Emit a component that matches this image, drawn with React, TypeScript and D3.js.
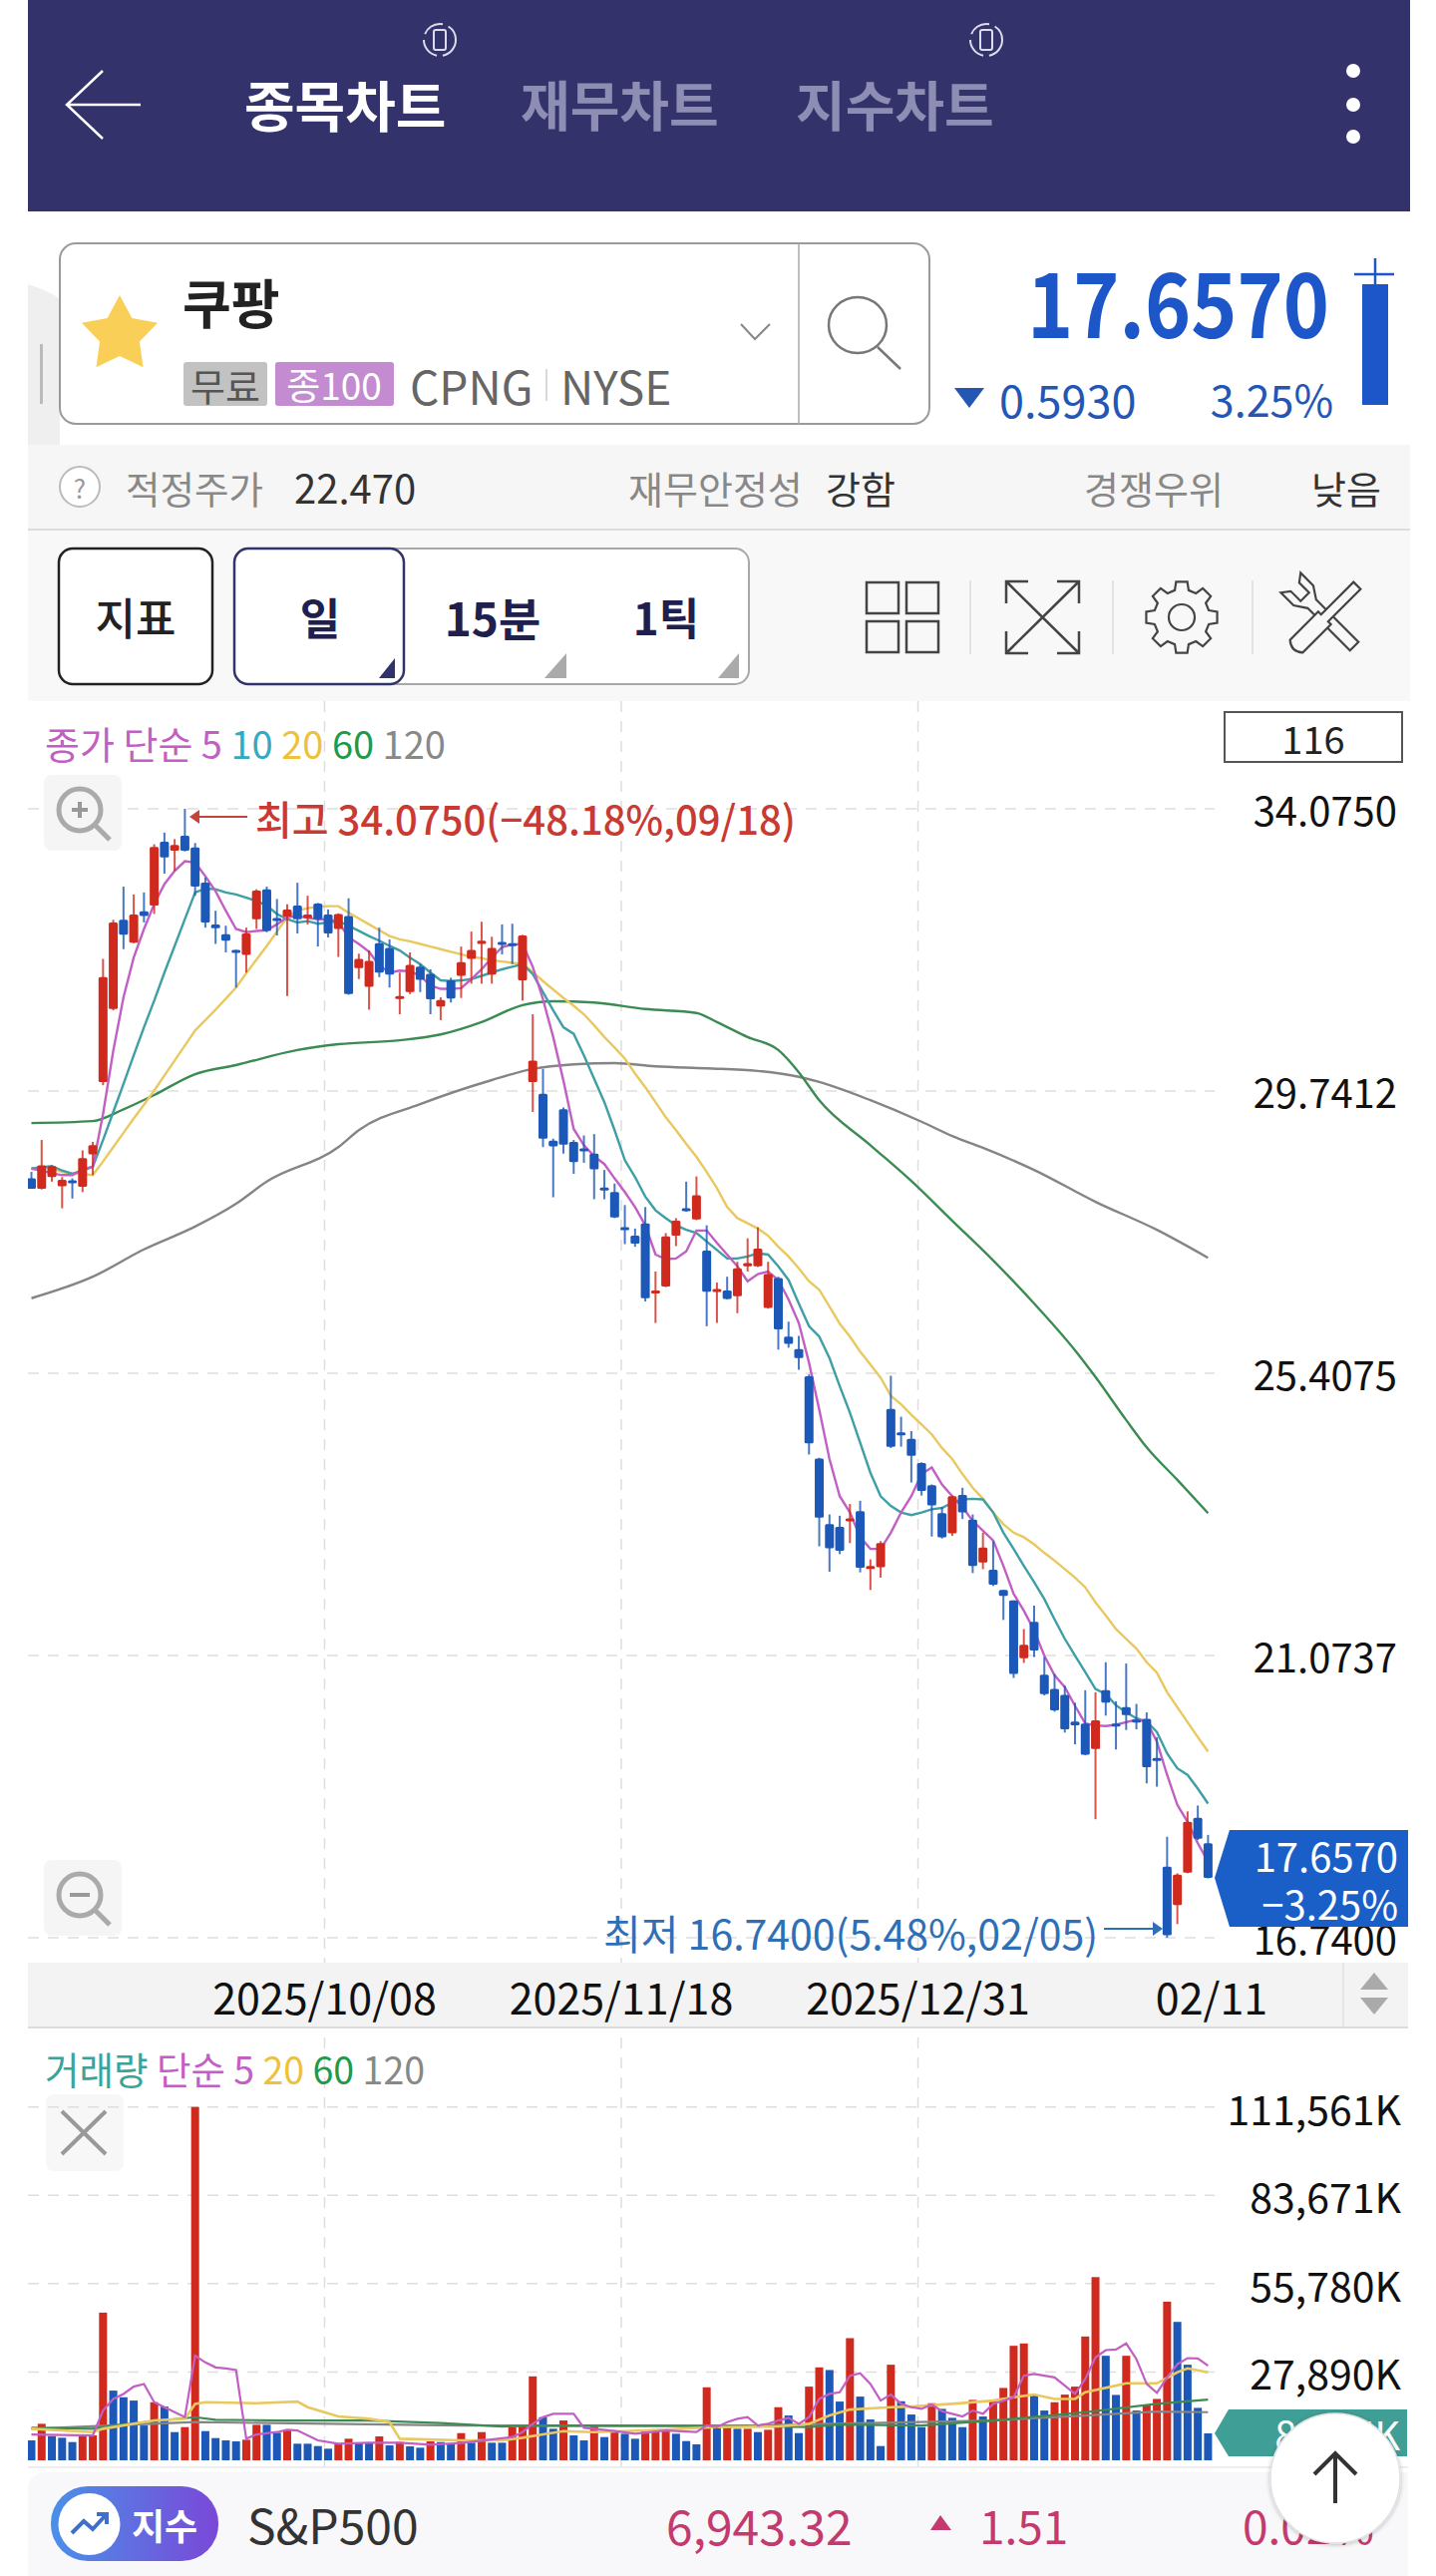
import React from "react";
import * as d3 from "d3";

// ---------- price data (116 daily candles) ----------
const opens = [28.40,28.24,28.42,28.28,28.37,28.27,28.77,29.88,31.00,32.37,32.02,32.50,32.59,33.57,33.43,33.66,33.48,32.94,32.30,32.15,31.91,31.83,32.38,32.84,32.40,32.42,32.59,32.40,32.62,32.45,32.23,32.43,31.63,31.34,32.01,31.94,31.18,31.26,31.65,31.54,31.04,31.44,31.51,31.77,32.00,31.53,32.03,32.01,31.44,29.88,29.70,28.98,29.46,28.96,28.86,28.78,28.26,28.19,27.65,27.52,27.71,26.66,26.74,27.52,27.94,27.77,27.29,26.66,26.68,26.59,27.05,27.05,26.41,26.87,25.97,25.78,25.36,24.10,23.09,23.05,23.15,23.29,22.44,22.43,24.86,24.50,24.40,24.03,23.69,23.26,22.95,23.54,23.16,22.50,22.39,22.08,21.92,21.03,21.59,20.78,20.56,20.47,20.06,20.03,19.64,20.54,20.03,20.28,20.09,20.10,19.50,17.83,17.24,17.74,18.58,18.19];
const highs = [28.50,28.99,28.60,28.42,28.40,28.83,28.96,31.77,32.37,32.88,32.76,32.79,33.53,33.71,33.61,34.075,33.55,33.02,32.51,32.28,31.91,32.25,32.84,32.88,32.69,32.61,32.94,32.74,32.63,32.53,32.47,32.70,31.85,31.90,32.25,32.07,31.56,31.87,31.69,31.61,31.18,31.48,31.96,32.19,32.34,32.11,32.30,32.31,32.14,30.92,30.08,29.01,29.49,28.99,29.06,29.08,28.53,28.32,27.99,27.63,27.96,26.97,27.56,27.79,28.35,28.43,27.68,26.80,26.89,27.12,27.48,27.65,27.12,26.89,26.20,25.98,25.39,24.11,23.24,23.22,23.40,23.45,22.55,22.83,25.37,24.74,24.52,24.04,23.70,23.35,23.53,23.65,23.24,22.96,22.83,22.08,21.92,21.48,21.84,21.05,20.79,20.61,20.35,20.54,20.51,20.97,20.37,20.95,20.33,20.20,19.82,18.29,17.73,18.68,18.77,18.32];
const lows = [28.24,28.23,28.35,27.94,28.09,28.19,28.45,29.83,30.98,31.92,32.01,32.33,32.46,33.08,33.12,33.42,32.74,32.25,32.00,31.87,31.33,31.56,32.23,32.18,32.13,31.20,32.16,32.30,31.96,32.10,31.80,31.22,31.46,30.99,31.49,31.33,30.92,31.23,31.26,30.92,30.83,31.10,31.17,31.39,31.39,31.39,31.84,31.69,31.13,29.42,28.88,28.11,28.78,28.47,28.64,28.08,28.08,27.79,27.39,27.35,26.51,26.18,26.73,27.36,27.89,27.76,26.13,26.18,26.54,26.33,26.97,27.04,26.40,25.77,25.80,25.46,24.16,22.75,22.36,22.63,22.80,22.35,22.08,22.27,24.26,24.28,23.73,23.53,22.90,22.87,22.91,23.17,22.34,22.40,22.14,21.62,20.73,20.96,21.05,20.46,20.21,19.89,19.71,19.54,18.56,20.15,19.63,19.93,19.94,19.11,19.06,16.74,16.95,17.73,18.24,17.65];
const closes = [28.24,28.60,28.59,28.38,28.35,28.71,28.91,31.49,32.33,32.14,32.45,32.43,33.49,33.33,33.52,33.43,32.88,32.33,32.24,32.05,31.89,32.16,32.82,32.20,32.38,32.53,32.38,32.45,32.38,32.16,32.46,31.23,31.77,31.74,31.56,31.53,31.20,31.68,31.45,31.15,31.14,31.16,31.72,31.91,32.05,31.94,31.99,31.99,32.13,30.21,29.01,28.89,28.92,28.65,28.84,28.54,28.24,27.80,27.63,27.40,26.56,26.68,27.51,27.75,27.90,28.14,26.66,26.70,26.55,27.02,27.10,27.32,26.93,26.08,25.86,25.64,24.33,23.19,22.72,22.68,23.18,22.42,22.45,22.80,24.28,24.48,24.14,23.60,23.38,22.89,23.52,23.27,22.45,22.73,22.16,21.99,20.79,21.24,21.15,20.48,20.23,19.94,20.00,19.55,20.08,20.35,20.01,20.16,20.07,19.36,19.48,16.78,17.71,18.52,18.26,17.657];

const ma5 = [28.55,28.52,28.48,28.45,28.45,28.54,28.58,29.39,30.36,31.18,31.79,32.23,32.61,32.92,33.12,33.27,33.25,33.04,32.81,32.51,32.23,32.18,32.20,32.21,32.30,32.41,32.43,32.40,32.38,32.38,32.34,32.10,32.00,31.88,31.67,31.56,31.59,31.58,31.51,31.36,31.31,31.31,31.32,31.46,31.61,31.79,31.95,31.99,32.00,31.65,31.15,30.57,29.90,29.16,28.91,28.74,28.62,28.40,28.19,27.96,27.68,27.23,27.16,27.17,27.28,27.60,27.60,27.41,27.23,27.05,26.82,26.93,26.97,26.84,26.54,26.18,25.57,24.85,24.09,23.52,23.27,22.89,22.71,22.71,22.96,23.27,23.52,23.86,23.96,23.70,23.52,23.35,23.14,22.99,22.84,22.45,22.02,21.76,21.46,21.07,20.77,20.59,20.30,20.03,20.00,19.99,20.01,20.05,20.09,20.06,19.75,19.24,18.78,18.52,18.19,17.91];
const ma10 = [28.55,28.57,28.59,28.52,28.47,28.52,28.58,28.99,29.42,29.85,30.29,30.72,31.13,31.56,31.97,32.38,32.79,32.85,32.84,32.79,32.76,32.71,32.66,32.59,32.46,32.38,32.33,32.35,32.31,32.33,32.35,32.28,32.20,32.12,32.05,31.97,31.90,31.79,31.69,31.56,31.44,31.43,31.44,31.46,31.51,31.56,31.61,31.65,31.69,31.54,31.26,30.98,30.72,30.62,30.29,29.93,29.57,29.14,28.68,28.42,28.12,27.91,27.79,27.68,27.61,27.56,27.43,27.30,27.17,27.17,27.20,27.25,27.23,27.05,26.84,26.48,26.13,25.97,25.64,25.21,24.80,24.34,23.88,23.52,23.37,23.27,23.23,23.27,23.32,23.34,23.42,23.47,23.48,23.47,23.27,22.96,22.71,22.45,22.20,21.94,21.63,21.33,21.07,20.82,20.56,20.48,20.31,20.20,20.11,20.06,19.90,19.57,19.34,19.24,19.03,18.80];
const ma20 = [28.55,28.57,28.55,28.50,28.47,28.47,28.45,28.66,28.88,29.10,29.32,29.53,29.75,29.98,30.21,30.44,30.67,30.83,30.99,31.16,31.33,31.55,31.76,31.97,32.19,32.41,32.51,32.55,32.57,32.58,32.58,32.48,32.39,32.30,32.21,32.12,32.07,32.04,32.00,31.96,31.92,31.88,31.84,31.80,31.78,31.75,31.73,31.71,31.69,31.57,31.43,31.30,31.17,31.05,30.92,30.75,30.57,30.41,30.24,30.01,29.80,29.57,29.34,29.14,28.93,28.73,28.50,28.25,27.96,27.79,27.71,27.63,27.52,27.35,27.20,27.02,26.82,26.69,26.43,26.17,25.97,25.74,25.54,25.34,25.06,24.93,24.77,24.62,24.47,24.26,24.09,23.86,23.65,23.48,23.27,23.09,22.96,22.89,22.78,22.65,22.53,22.40,22.27,22.12,21.89,21.69,21.48,21.33,21.18,20.97,20.81,20.51,20.28,20.05,19.82,19.60];
const ma60Index = [0,6,9,12,16,20,26,30,36,40,44,48,51,55,60,65,67,70,73,75,77,82,86,90,94,98,102,104,107,109,112,115];
const ma60 = [29.25,29.28,29.46,29.68,30.00,30.14,30.37,30.46,30.52,30.61,30.80,31.06,31.12,31.10,31.00,30.94,30.80,30.57,30.37,30.03,29.60,28.91,28.36,27.75,27.14,26.48,25.76,25.35,24.69,24.27,23.77,23.26];
const ma120Index = [0,6,11,16,20,23,30,32,38,45,49,53,57,61,66,71,75,77,82,87,90,93,98,104,110,115];
const ma120 = [26.56,26.89,27.31,27.66,28.01,28.35,28.88,29.14,29.54,29.91,30.08,30.15,30.17,30.12,30.09,30.05,29.96,29.88,29.60,29.27,29.05,28.87,28.53,28.04,27.61,27.18];

const priceTicks = [34.075, 29.7412, 25.4075, 21.0737, 16.74];
const priceTickLabels = ["34.0750", "29.7412", "25.4075", "21.0737", "16.7400"];
const dateTickIndex = [28.65, 57.65, 86.65];
const dateTickLabels = ["2025/10/08", "2025/11/18", "2025/12/31"];
const lastDateLabel = "02/11";

// ---------- volume data (thousands of shares) ----------
const volumes = [6288,11528,7650,7126,5764,7860,7860,46636,22008,19912,18864,11004,18340,16978,8908,10480,111561,9222,7022,6288,5974,6498,11214,11214,8698,9432,5240,5240,4506,3668,5240,6812,5450,5450,7546,4716,5764,4402,3982,5974,5764,5240,8594,5554,8908,5554,5554,10480,11004,26514,13624,9956,12576,7860,6288,10690,7336,8908,8384,6812,9432,9642,9642,8384,6078,5030,23056,11004,10690,9956,9956,8908,9642,16768,14148,8594,23266,29344,28506,18550,38566,20122,12890,4506,30182,18654,14462,10480,18026,16244,13414,10480,19074,13834,19074,22846,36156,36890,20750,15720,18340,20750,23266,39090,57850,33012,20646,33012,15720,17502,19388,50094,43702,30182,16558,8505];
const volumeUp = "brbbbrrrbbbbrbbrrbbbbrrbbrbbbbrrbbrbrbbrbbrbrbbrrrbbrbbrbrbbrrrbbbrbrbrbrrbbrrbbrbbbrbbbrbbbrbrrrrbbrrrrrbbrbrrrbbbb";
const volMa5Index = [0,6,7,8,9,10,11,12,13,14,15,16,17,18,19,20,21,22,24,25,26,28,30,33,36,39,42,47,48,49,50,51,53,54,57,59,62,65,66,67,68,69,70,71,72,73,74,75,76,77,78,79,80,81,82,83,84,85,86,87,88,89,90,91,92,93,94,95,96,97,98,99,100,101,102,103,104,105,106,107,108,109,110,111,112,113,114,115];
const volMa5 = [8174,7860,15720,19388,20960,23266,24104,18340,16768,15196,13624,33012,30916,29344,29030,28506,6812,8174,8908,9642,9432,6288,5240,5554,5554,4926,5450,7336,8908,11528,13624,14672,14672,10270,9222,8384,9432,8908,11004,10480,12052,13100,13624,11004,11528,12576,13414,11528,13624,19388,20960,21484,26724,27458,24104,18864,20750,17816,16768,16244,17606,15510,14672,13834,15720,14672,17816,18864,19912,26724,27248,26724,26200,23580,20960,25676,32488,34794,35003,36890,31964,24104,21274,26200,30392,32278,32174,29868];
const volMa20Index = [0,6,7,12,15,16,17,22,26,27,30,33,35,36,42,46,48,50,52,55,60,67,73,76,78,80,84,86,90,94,96,98,100,102,103,106,107,110,112,113,115];
const volMa20 = [9956,8908,9956,12576,13100,17816,18340,18026,18550,16768,13834,13100,12052,6812,6288,6288,7126,8174,9222,8908,9432,10480,10690,11528,14148,16034,16768,16978,17816,18864,19912,20750,19388,19388,21484,23580,24314,24314,27772,29030,27772];
const volMa60Index = [0,6,8,12,16,18,25,33,40,46,50,67,76,79,87,94,103,110,115];
const volMa60 = [10270,9956,11004,12366,13624,12786,12576,12576,11738,10690,11004,10899,10480,11318,11004,12576,15196,17816,19178];
const volMa120Index = [0,16,42,67,94,103,110,115];
const volMa120 = [9956,12052,11004,10794,12576,14148,15406,15196];
const volumeTicks = [111561, 83671, 55780, 27890];
const volumeTickLabels = ["111,561K", "83,671K", "55,780K", "27,890K"];

const FONT = "'Noto Sans CJK KR','Noto Sans',sans-serif";
const RED = "#d02a1e";
const BLUE = "#1c58b8";
const C5 = "#c25fc4";
const C10 = "#3f9fa6";
const C20 = "#e9c95f";
const C60 = "#3b8b52";
const C120 = "#858585";

const x = d3.scaleLinear().domain([0, 115]).range([31.5, 1211.4]);
const y = d3.scaleLinear().domain([16.74, 34.075]).range([1943, 811]);
const yv = d3.scaleLinear().domain([0, 111561]).range([2467, 2112.7]);

const lineOf = (idx: number[], vals: number[], scale: (v: number) => number, curve: any = d3.curveLinear) =>
  d3.line<number>().x((_, k) => x(idx[k])).y((v) => scale(v)).curve(curve)(vals) || "";
const seq = d3.range(116);

function T(p: any) {
  const { children, size = 36, fill = "#222", w = 400, anchor = "start", ...r } = p;
  return (
    <text fontFamily={FONT} fontSize={size} fill={fill} fontWeight={w} textAnchor={anchor} dominantBaseline="central" {...r}>
      {children}
    </text>
  );
}

function gearPath(cx: number, cy: number, r1: number, r2: number, teeth: number) {
  const pts: string[] = [];
  for (let i = 0; i < teeth; i++) {
    const a = (i / teeth) * Math.PI * 2;
    const s = (Math.PI * 2) / teeth;
    [[-0.32, r1], [-0.2, r2], [0.2, r2], [0.32, r1]].forEach(([f, r]) => {
      pts.push(`${cx + r * Math.cos(a + f * s)},${cy + r * Math.sin(a + f * s)}`);
    });
  }
  return "M" + pts.join("L") + "Z";
}

export default function App() {
  const star = d3.range(10).map((i) => {
    const r = i % 2 === 0 ? 40 : 21;
    const a = -Math.PI / 2 + (i * Math.PI) / 5;
    return `${120 + r * Math.cos(a)},${336 + r * Math.sin(a)}`;
  }).join(" ");
  return (
    <svg width={1440} height={2583} viewBox="0 0 1440 2583" style={{ position: "absolute", left: 0, top: 0, background: "#fff" }}>
      <defs>
        <linearGradient id="pill" x1="0" x2="1" y1="0" y2="0">
          <stop offset="0" stopColor="#4a90e8" />
          <stop offset="1" stopColor="#7a48d8" />
        </linearGradient>
        <clipPath id="plot"><rect x={28} y={703} width={1190} height={1262} /></clipPath>
        <clipPath id="vplot"><rect x={28} y={2035} width={1190} height={440} /></clipPath>
        <filter id="sh" x="-20%" y="-20%" width="140%" height="140%">
          <feDropShadow dx={0} dy={1} stdDeviation={2} floodColor="#000" floodOpacity={0.25} />
        </filter>
      </defs>

      {/* header */}
      <rect x={28} y={0} width={1386} height={212} fill="#33326b" />
      <g stroke="#fff" strokeWidth={2.5} fill="none">
        <path d="M141,105 H68 M103,71 L67,105 L103,139" />
      </g>
      <T x={245} y={103} size={55} w={700} fill="#fff">종목차트</T>
      <T x={522} y={103} size={54} w={700} fill="#8e8eb4">재무차트</T>
      <T x={798} y={103} size={54} w={700} fill="#8e8eb4">지수차트</T>
      {[441, 989].map((cx) => (
        <g key={cx} stroke="#dcdcec" fill="none" strokeWidth={2}>
          <circle cx={cx} cy={40} r={16} strokeDasharray="22 6" />
          <rect x={cx - 6} y={30} width={12} height={20} rx={2} />
        </g>
      ))}
      {[71, 105, 137].map((cy) => <circle key={cy} cx={1357} cy={cy} r={7} fill="#fff" />)}

      {/* stock box */}
      <path d="M28,285 Q50,292 60,300 V450 Q50,462 28,472 Z" fill="#efefef" />
      <rect x={40} y={345} width={3} height={60} fill="#bbb" />
      <rect x={60} y={244} width={872} height={181} rx={16} fill="#fff" stroke="#9a9a9a" strokeWidth={2} />
      <line x1={801} x2={801} y1={244} y2={425} stroke="#aaa" strokeWidth={1.5} />
      <polygon points={star} fill="#f9cf57" />
      <T x={183} y={302} size={53} w={700} fill="#222">쿠팡</T>
      <rect x={184} y={363} width={84} height={44} rx={3} fill="#c2c2c2" />
      <T x={226} y={385} size={38} fill="#555" anchor="middle">무료</T>
      <rect x={276} y={363} width={119} height={44} rx={3} fill="#c38bd0" />
      <T x={335} y={385} size={37} fill="#fff" anchor="middle">종100</T>
      <T x={411} y={386} size={46} fill="#666">CPNG</T>
      <line x1={548} x2={548} y1={370} y2={402} stroke="#ccc" strokeWidth={1.5} />
      <T x={562} y={386} size={46} fill="#666">NYSE</T>
      <path d="M743,325 L757,340 L772,325" stroke="#888" strokeWidth={2} fill="none" />
      <ellipse cx={860} cy={326} rx={29} ry={28} fill="none" stroke="#777" strokeWidth={2.5} />
      <line x1={880} y1={348} x2={903} y2={370} stroke="#777" strokeWidth={2.5} />

      {/* price header */}
      <T x={1030} y={300} size={90} w={600} fill="#1c56c8" textLength={303} lengthAdjust="spacingAndGlyphs">17.6570</T>
      <line x1={1379} x2={1379} y1={259} y2={287} stroke="#1c56c8" strokeWidth={2.5} />
      <line x1={1358} x2={1398} y1={275} y2={275} stroke="#1c56c8" strokeWidth={2.5} />
      <rect x={1366} y={285} width={26} height={121} fill="#1c56c8" />
      <polygon points="957,389 987,389 972,409" fill="#2456b4" />
      <T x={1002} y={399} size={45} fill="#2456b4">0.5930</T>
      <T x={1337} y={399} size={43} fill="#2456b4" anchor="end">3.25%</T>

      {/* info strip */}
      <rect x={28} y={446} width={1386} height={85} fill="#f6f6f6" />
      <line x1={28} x2={1414} y1={531} y2={531} stroke="#dcdcdc" strokeWidth={2} />
      <circle cx={80} cy={488} r={20} fill="#fff" stroke="#bbb" strokeWidth={2} />
      <T x={80} y={488} size={26} fill="#999" anchor="middle">?</T>
      <T x={126} y={488} size={37.5} fill="#888">적정주가</T>
      <T x={295} y={488} size={40} fill="#333">22.470</T>
      <T x={630} y={488} size={38} fill="#888">재무안정성</T>
      <T x={828} y={488} size={38} fill="#333">강함</T>
      <T x={1087} y={488} size={38} fill="#888">경쟁우위</T>
      <T x={1315} y={488} size={38} fill="#333">낮음</T>

      {/* toolbar */}
      <rect x={28} y={532} width={1386} height={171} fill="#f8f8f8" />
      <rect x={59} y={550} width={154} height={136} rx={14} fill="#fff" stroke="#222" strokeWidth={2.5} />
      <T x={136} y={618} size={44} w={500} anchor="middle">지표</T>
      <rect x={235} y={550} width={516} height={136} rx={14} fill="#fff" stroke="#a8a8a8" strokeWidth={2} />
      <rect x={235} y={550} width={170} height={136} rx={14} fill="#fff" stroke="#33336b" strokeWidth={2.5} />
      <T x={321} y={618} size={44} w={700} fill="#20204f" anchor="middle">일</T>
      <T x={494} y={618} size={46} w={700} fill="#20204f" anchor="middle">15분</T>
      <T x={668} y={618} size={44} w={700} fill="#20204f" anchor="middle">1틱</T>
      <polygon points="396,660 396,680 380,680" fill="#33336b" />
      <polygon points="568,655 568,680 546,680" fill="#aaa" />
      <polygon points="741,655 741,680 720,680" fill="#aaa" />
      <g stroke="#444" strokeWidth={2.5} fill="none">
        <rect x={869} y={584} width={32} height={31} />
        <rect x={909} y={584} width={32} height={31} />
        <rect x={869} y={623} width={32} height={31} />
        <rect x={909} y={623} width={32} height={31} />
        <path d="M1009,583 L1082,655 M1082,583 L1009,655 M1009,605 V583 H1031 M1060,583 H1082 V605 M1009,633 V655 H1031 M1060,655 H1082 V633" />
        <path d={gearPath(1185, 619, 28, 36, 8)} strokeWidth={2.2} />
        <circle cx={1185} cy={619} r={13} strokeWidth={2.2} />
        <g strokeWidth={2.2} transform="rotate(-45 1329 619)">
          <path d="M1323,660 V600 L1315,588 V570 L1323,576 V590 H1335 V576 L1343,570 V588 L1335,600 V660 Z" transform="translate(0,0)" />
        </g>
        <g strokeWidth={2.2} fill="#f8f8f8" transform="rotate(45 1329 619)">
          <path d="M1324,574 H1334 V620 H1338 V660 Q1329,668 1320,660 V620 H1324 Z" />
        </g>
      </g>
      {[973, 1116, 1256].map((lx) => <line key={lx} x1={lx} x2={lx} y1={582} y2={656} stroke="#ddd" strokeWidth={1.5} />)}

      {/* vertical grid */}
      {dateTickIndex.map((d) => (
        <line key={d} x1={x(d)} x2={x(d)} y1={703} y2={2473} stroke="#dedede" strokeWidth={1.5} strokeDasharray="11 9" />
      ))}

      {/* price grid */}
      {priceTicks.map((t) => (
        <line key={t} x1={28} x2={1218} y1={y(t)} y2={y(t)} stroke="#dedede" strokeWidth={1.5} strokeDasharray="11 9" />
      ))}

      {/* legend + controls */}
      <text x={45} y={744} fontFamily={FONT} fontSize={38} dominantBaseline="central" fill={C5}>
        종가 단순 5 <tspan fill="#35a9c2">10</tspan> <tspan fill="#eec13c">20</tspan> <tspan fill="#1f9a4a">60</tspan> <tspan fill="#888">120</tspan>
      </text>
      <rect x={1228} y={714} width={178} height={50} fill="#fff" stroke="#555" strokeWidth={2} />
      <T x={1317} y={739} size={38} anchor="middle" fill="#222">116</T>
      <rect x={44} y={777} width={78} height={76} rx={8} fill="#f5f5f5" />
      <g stroke="#aaa" strokeWidth={5} fill="none">
        <circle cx={80} cy={812} r={21} />
        <path d="M95,827 L110,842" />
        <path d="M72,812 H88 M80,804 V820" stroke="#999" strokeWidth={4} />
      </g>
      <rect x={44} y={1865} width={78} height={76} rx={8} fill="#f5f5f5" />
      <g stroke="#aaa" strokeWidth={5} fill="none">
        <circle cx={80} cy={1900} r={21} />
        <path d="M95,1915 L110,1930" />
        <path d="M70,1900 H90" stroke="#999" strokeWidth={4} />
      </g>

      {/* moving averages, then candles */}
      <g clipPath="url(#plot)" fill="none" strokeWidth={2.4}>
        <path d={lineOf(ma120Index, ma120, y, d3.curveMonotoneX)} stroke={C120} />
        <path d={lineOf(ma60Index, ma60, y, d3.curveMonotoneX)} stroke={C60} />
        <path d={lineOf(seq, ma20, y)} stroke={C20} />
        <path d={lineOf(seq, ma10, y)} stroke={C10} />
        <path d={lineOf(seq, ma5, y)} stroke={C5} />
      </g>
      <g clipPath="url(#plot)">
        {seq.map((i) => {
          const up = closes[i] >= opens[i];
          const col = up ? RED : BLUE;
          const top = y(Math.max(opens[i], closes[i]));
          const bot = y(Math.min(opens[i], closes[i]));
          return (
            <g key={i}>
              <line x1={x(i)} x2={x(i)} y1={y(highs[i])} y2={y(lows[i])} stroke={col} strokeWidth={2} opacity={0.8} />
              <rect x={x(i) - 4.5} y={top} width={9} height={Math.max(bot - top, 3)} fill={col} rx={1.5} />
            </g>
          );
        })}
      </g>

      {/* axis labels */}
      {priceTicks.map((t, k) => (
        <T key={t} x={1401} y={y(t)} size={40} anchor="end" fill="#111">{priceTickLabels[k]}</T>
      ))}

      {/* high / low notes */}
      <g stroke="#c2443c" strokeWidth={2} fill="#c2443c">
        <line x1={194} x2={248} y1={819} y2={819} />
        <polygon points="190,819 200,812 200,826" stroke="none" />
      </g>
      <T x={256} y={820} size={40} w={500} fill="#c93a33">최고 34.0750(−48.18%,09/18)</T>
      <T x={605} y={1937} size={41} fill="#2e6fb5">최저 16.7400(5.48%,02/05)</T>
      <g stroke="#2e6fb5" strokeWidth={2} fill="#2e6fb5">
        <line x1={1107} x2={1160} y1={1934} y2={1934} />
        <polygon points="1166,1934 1156,1927 1156,1941" stroke="none" />
      </g>

      {/* last price tag */}
      <polygon points="1233,1835 1412,1835 1412,1932 1233,1932 1218,1883" fill="#1a5fc8" />
      <T x={1402} y={1860} size={40} anchor="end" fill="#fff">17.6570</T>
      <T x={1402} y={1908} size={40} anchor="end" fill="#fff">−3.25%</T>

      {/* date band */}
      <rect x={28} y={1968} width={1384} height={65} fill="#f3f3f3" />
      <line x1={28} x2={1412} y1={2033} y2={2033} stroke="#dcdcdc" strokeWidth={2} />
      <line x1={1347} x2={1347} y1={1968} y2={2033} stroke="#e2e2e2" strokeWidth={1.5} />
      {dateTickIndex.map((d, k) => (
        <T key={d} x={x(d)} y={2001} size={43} anchor="middle" fill="#111">{dateTickLabels[k]}</T>
      ))}
      <T x={1215} y={2001} size={43} anchor="middle" fill="#111">{lastDateLabel}</T>
      <polygon points="1378,1978 1392,1995 1364,1995" fill="#aaa" />
      <polygon points="1378,2020 1392,2003 1364,2003" fill="#aaa" />

      {/* volume panel */}
      <text x={45} y={2073} fontFamily={FONT} fontSize={37.5} dominantBaseline="central" fill={C5}>
        <tspan fill="#3aa39a">거래량</tspan> 단순 5 <tspan fill="#eec13c">20</tspan> <tspan fill="#1f9a4a">60</tspan> <tspan fill="#888">120</tspan>
      </text>
      <rect x={46} y={2100} width={78} height={77} rx={8} fill="#f7f7f7" />
      <path d="M62,2117 L106,2160 M106,2117 L62,2160" stroke="#999" strokeWidth={4} />
      {volumeTicks.map((t) => (
        <line key={t} x1={28} x2={1218} y1={yv(t)} y2={yv(t)} stroke="#dedede" strokeWidth={1.5} strokeDasharray="11 9" />
      ))}
      {volumeTicks.map((t, k) => (
        <T key={t} x={1405} y={yv(t)} size={41} anchor="end" fill="#111">{volumeTickLabels[k]}</T>
      ))}
      <g clipPath="url(#vplot)">
        {seq.map((i) => (
          <rect key={i} x={x(i) - 4} y={yv(volumes[i])} width={8} height={yv(0) - yv(volumes[i])}
            fill={volumeUp[i] === "r" ? RED : BLUE} />
        ))}
      </g>
      <g clipPath="url(#vplot)" fill="none" strokeWidth={2.2}>
        <path d={lineOf(volMa120Index, volMa120, yv)} stroke={C120} />
        <path d={lineOf(volMa60Index, volMa60, yv)} stroke={C60} />
        <path d={lineOf(volMa20Index, volMa20, yv)} stroke={C20} strokeWidth={2.6} />
        <path d={lineOf(volMa5Index, volMa5, yv)} stroke={C5} />
      </g>
      <polygon points="1232,2416 1411,2416 1411,2463 1232,2463 1218,2440" fill="#3f9e96" />
      <T x={1404} y={2440} size={40} anchor="end" fill="#fff">8,505K</T>

      {/* index strip */}
      <line x1={28} x2={1412} y1={2474} y2={2474} stroke="#eee" strokeWidth={2} />
      <path d="M28,2583 V2498 Q28,2479 48,2479 H1412 V2583 Z" fill="#f8f8fb" />
      <rect x={51} y={2493} width={168} height={75} rx={37} fill="url(#pill)" />
      <circle cx={89.5} cy={2531} r={31} fill="#fff" />
      <path d="M72,2540 L84,2528 L93,2536 L106,2522 M97,2521 H107 V2531" stroke="#3f6fcb" strokeWidth={4} fill="none" />
      <T x={165} y={2531} size={36} w={700} fill="#fff" anchor="middle">지수</T>
      <T x={248} y={2530} size={48} fill="#333">S&amp;P500</T>
      <T x={668} y={2531} size={48} fill="#c33b6e">6,943.32</T>
      <polygon points="943,2522 954,2537 933,2537" fill="#c33b6e" />
      <T x={982} y={2531} size={46} fill="#c33b6e">1.51</T>
      <T x={1246} y={2531} size={46} fill="#c33b6e">0.02%</T>

      {/* floating button */}
      <circle cx={1339} cy={2485} r={65} fill="#fff" stroke="#e2e2e2" strokeWidth={1.5} filter="url(#sh)" />
      <path d="M1339,2510 V2461 M1318,2481 L1339,2460 L1360,2481" stroke="#333" strokeWidth={4} fill="none" />
    </svg>
  );
}
